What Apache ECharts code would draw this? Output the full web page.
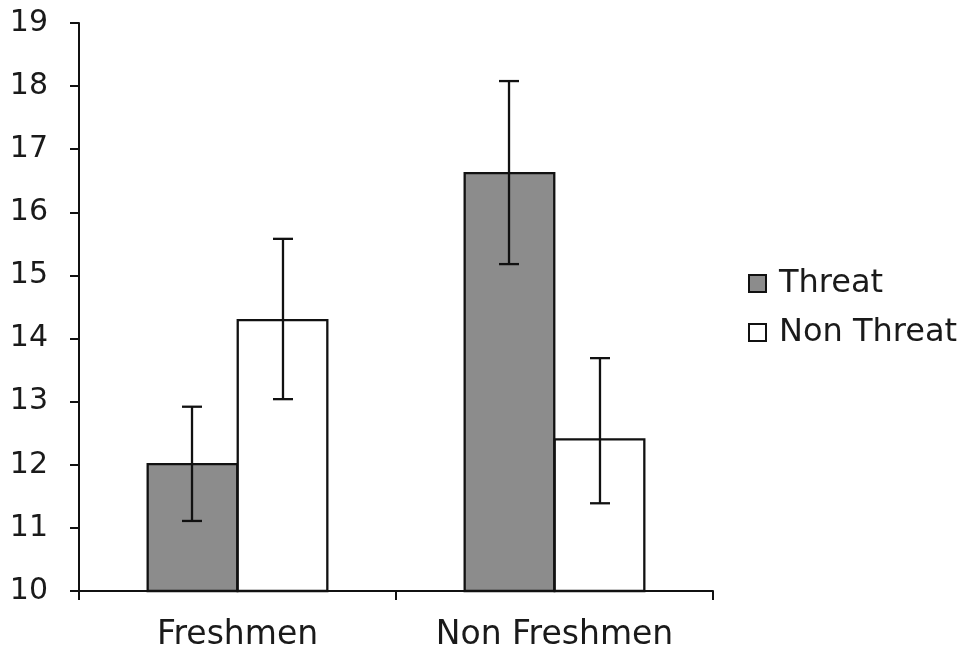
<!DOCTYPE html>
<html>
<head>
<meta charset="utf-8">
<script src="https://cdn.jsdelivr.net/npm/echarts@6/dist/echarts.min.js"></script>
<style>
html,body{margin:0;padding:0;background:#fff;}
#chart{width:968px;height:659px;}
</style>
</head>
<body>
<div id="chart"></div>
<script>
const categories = ['Freshmen', 'Non Freshmen'];
const seriesNames = ['Threat', 'Non Threat'];
const threat = [12.03, 16.64];
const nonThreat = [14.31, 12.42];
const threatErrLow = [11.11, 15.18];
const threatErrHigh = [12.92, 18.08];
const nonThreatErrLow = [13.04, 11.39];
const nonThreatErrHigh = [15.58, 13.69];
const yTicks = [10, 11, 12, 13, 14, 15, 16, 17, 18, 19];

const FONT = 'DejaVu Sans';
const TXT = '#1a1a1a';
const GAP = 0.426;

function errSeries(low, high, side) {
  const data = categories.map((c, i) => [i, low[i], high[i]]);
  return {
    type: 'custom',
    z: 10,
    silent: true,
    data: data,
    encode: { x: 0, y: [1, 2] },
    renderItem: function (params, api) {
      const i = api.value(0);
      const catW = api.size([1, 0])[0];
      const barW = catW * (1 - GAP) / 2;
      const off = side * barW / 2;
      const lo = api.coord([i, api.value(1)]);
      const hi = api.coord([i, api.value(2)]);
      const x = lo[0] + off;
      const cap = 10;
      const st = { stroke: '#111', lineWidth: 2.3 };
      return {
        type: 'group',
        children: [
          { type: 'line', shape: { x1: x, y1: lo[1], x2: x, y2: hi[1] }, style: st },
          { type: 'line', shape: { x1: x - cap, y1: lo[1], x2: x + cap, y2: lo[1] }, style: st },
          { type: 'line', shape: { x1: x - cap, y1: hi[1], x2: x + cap, y2: hi[1] }, style: st }
        ]
      };
    }
  };
}

const chart = echarts.init(document.getElementById('chart'));
chart.setOption({
  animation: false,
  backgroundColor: '#fff',
  textStyle: { fontFamily: FONT },
  grid: { left: 79, right: 255, top: 23, bottom: 68, containLabel: false },
  legend: {
    data: seriesNames,
    orient: 'vertical',
    left: 743,
    top: 262,
    itemWidth: 17,
    itemHeight: 17,
    itemGap: 16,
    icon: 'rect',
    textStyle: { fontFamily: FONT, fontSize: 32, color: TXT, lineHeight: 33, padding: [0, 0, 0, 8] }
  },
  xAxis: {
    type: 'category',
    data: categories,
    axisLine: { lineStyle: { color: '#111', width: 2 } },
    axisTick: { show: true, length: 9, lineStyle: { color: '#111', width: 2 } },
    axisLabel: { fontFamily: FONT, fontSize: 33, color: TXT, margin: 28 },
    splitLine: { show: false }
  },
  yAxis: {
    type: 'value',
    min: yTicks[0],
    max: yTicks[yTicks.length - 1],
    interval: 1,
    axisLine: { show: true, lineStyle: { color: '#111', width: 2 } },
    axisTick: { show: true, length: 9, lineStyle: { color: '#111', width: 2 } },
    axisLabel: { fontFamily: FONT, fontSize: 30, color: TXT, margin: 31 },
    splitLine: { show: false }
  },
  series: [
    {
      name: seriesNames[0], type: 'bar', data: threat,
      barGap: '-2%', barCategoryGap: (GAP * 100) + '%',
      itemStyle: { color: '#8c8c8c', borderColor: '#111', borderWidth: 2.3 }
    },
    {
      name: seriesNames[1], type: 'bar', data: nonThreat,
      barGap: '-2%', barCategoryGap: (GAP * 100) + '%',
      itemStyle: { color: '#ffffff', borderColor: '#111', borderWidth: 2.3 }
    },
    errSeries(threatErrLow, threatErrHigh, -1),
    errSeries(nonThreatErrLow, nonThreatErrHigh, 1)
  ]
});
</script>
</body>
</html>
